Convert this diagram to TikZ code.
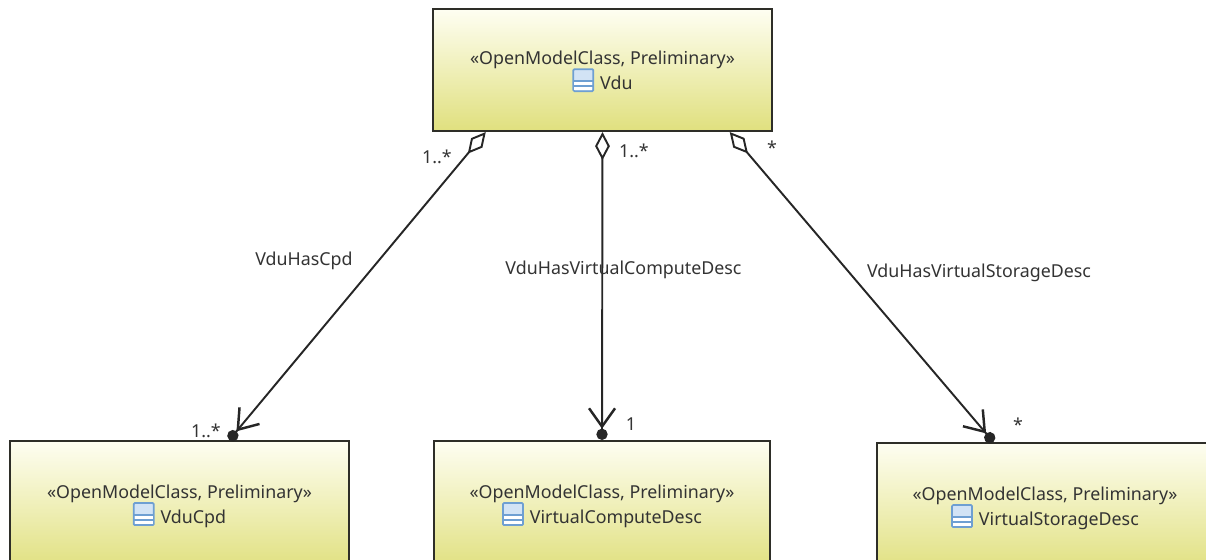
\documentclass[tikz,border=0pt]{standalone}
\usepackage{fontspec}
\setmainfont{Noto Sans}
\usetikzlibrary{arrows.meta}

\definecolor{classline}{HTML}{2E2E28}
\definecolor{classtop}{HTML}{FEFEF2}
\definecolor{classbottom}{HTML}{E0E07E}
\definecolor{iconline}{HTML}{6E9FD2}
\definecolor{iconfill}{HTML}{D2E3F5}

\tikzset{
  umlclass/.style={draw=classline, line width=0.6pt, top color=classtop, bottom color=classbottom,
    minimum width=3.39cm, minimum height=1.22cm, inner sep=0pt, align=center, text=black!80,
    font=\fontsize{5.07}{7.1}\selectfont},
  umlcut/.style={umlclass, minimum width=3.36cm, minimum height=1.3cm},
  umllabel/.style={inner sep=0pt, text=black!80, font=\fontsize{5.07}{7.1}\selectfont},
  aggregation/.style={draw=black!85, line width=0.55pt,
    {Diamond[open, length=8pt, width=4.2pt, fill=white]}-{Straight Barb[length=5.2pt, width=7.4pt, line width=0.7pt]Circle[length=3.2pt, width=3.2pt]}}
}

\newsavebox{\classiconbox}
\sbox{\classiconbox}{\tikz[baseline=0.02cm]{
  \draw[iconline, line width=0.5pt, rounded corners=0.3pt, fill=iconfill] (0,0) rectangle (0.2,0.22);
  \fill[white] (0.01,0.01) rectangle (0.19,0.1);
  \draw[iconline, line width=0.4pt] (0,0.1) -- (0.2,0.1);
  \draw[iconline, line width=0.4pt] (0,0.05) -- (0.2,0.05);
}}
\newcommand{\classicon}{\smash{\usebox{\classiconbox}}\hspace{0.06cm}}
\newcommand{\stereotype}{«OpenModelClass, Preliminary»}

\begin{document}
\begin{tikzpicture}
\clip (0,0) rectangle (12.06,5.6);

% classes
\node[umlclass] (vdu) at (6.025,4.9) {\stereotype\\\classicon Vdu};
\node[umlcut, minimum width=3.39cm] (vducpd) at (1.795,0.54) {\stereotype\\\classicon VduCpd};
\node[umlcut] (computedesc) at (6.02,0.54) {\stereotype\\\classicon VirtualComputeDesc};
\node[umlcut] (storagedesc) at (10.45,0.52) {\stereotype\\\classicon VirtualStorageDesc};

% associations
\draw[aggregation] (vdu.-152.5) -- (vducpd.53.3);
\draw[aggregation] (vdu.south) -- (computedesc.north);
\draw[aggregation] (vdu.-26.2) -- (storagedesc.128.7);

% association names
\node[umllabel] (hascpd) at (3.04,2.99) {VduHasCpd};
\node[umllabel] (hascompute) at (6.235,2.9) {VduHasVirtualComputeDesc};
\node[umllabel] (hasstorage) at (9.79,2.87) {VduHasVirtualStorageDesc};

% multiplicities
\node[umllabel] (multa) at (4.37,4.03) {1..*};
\node[umllabel] (multb) at (6.34,4.09) {1..*};
\node[umllabel] (multc) at (7.72,4.12) {*};
\node[umllabel] (multd) at (2.06,1.29) {1..*};
\node[umllabel] (multe) at (6.31,1.36) {1};
\node[umllabel] (multf) at (10.18,1.35) {*};
\end{tikzpicture}
\end{document}
